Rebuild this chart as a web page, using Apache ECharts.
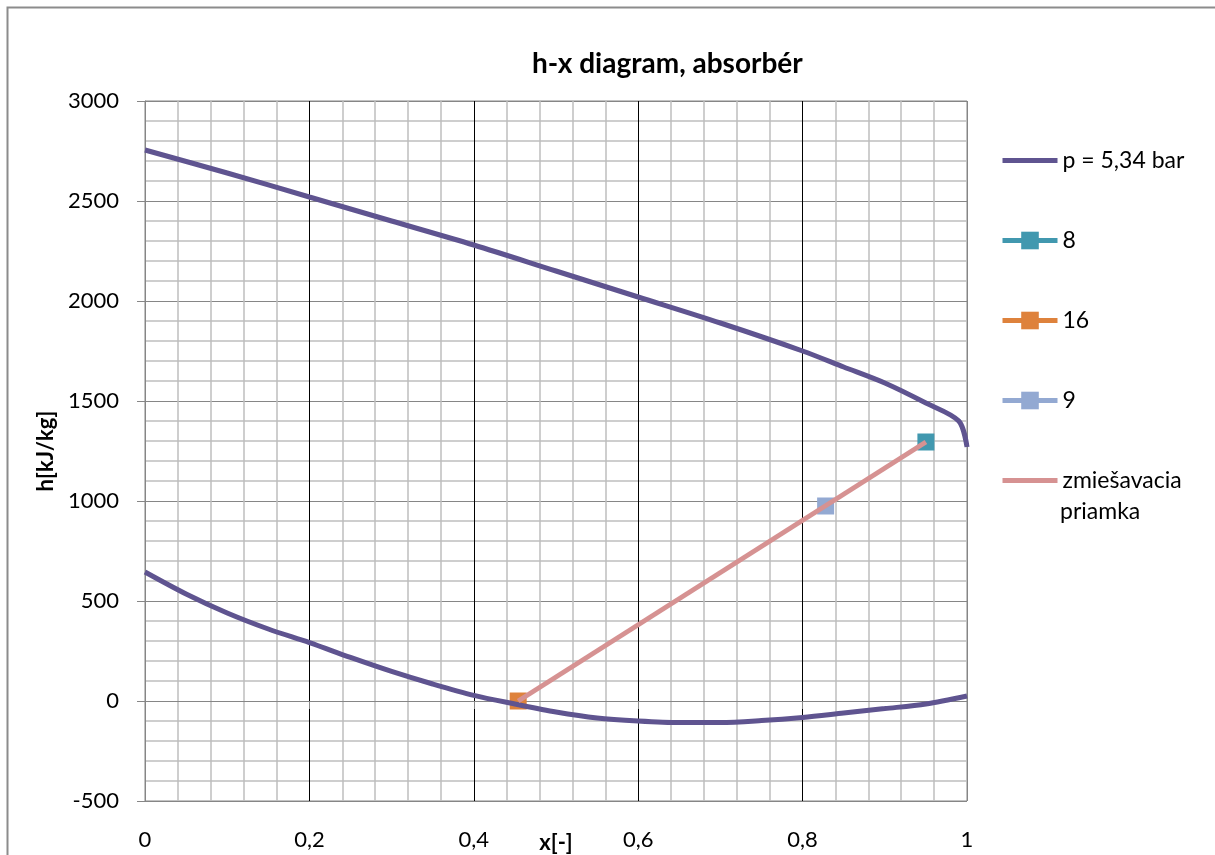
<!DOCTYPE html>
<html>
<head>
<meta charset="utf-8">
<script src="https://cdn.jsdelivr.net/npm/echarts@6/dist/echarts.min.js"></script>
<style>
html,body{margin:0;padding:0;background:#fff;}
#c{width:1215px;height:855px;}
</style>
</head>
<body>
<div id="c"></div>
<script>
// Saturation curve p = 5,34 bar: lower (liquid) branch
var lowerX = [0, 0.05, 0.1, 0.15, 0.2, 0.25, 0.3, 0.35, 0.4, 0.45, 0.5, 0.55, 0.6, 0.65, 0.7, 0.75, 0.8, 0.85, 0.9, 0.95, 1.0];
var lowerH = [645, 535, 440, 360, 292, 218, 148, 85, 28, -15, -55, -85, -100, -108, -108, -98, -82, -60, -38, -15, 25];
// upper (vapour) branch
var upperX = [0, 0.1, 0.2, 0.3, 0.4, 0.5, 0.6, 0.7, 0.8, 0.85, 0.9, 0.95, 0.99, 1.0];
var upperH = [2755, 2640, 2520, 2400, 2280, 2150, 2020, 1890, 1750, 1670, 1590, 1490, 1400, 1270];
// state points
var point8 = [0.95, 1295];
var point16 = [0.454, 0];
var point9 = [0.828, 975];
// mixing line
var mixX = [0.454, 0.95];
var mixH = [0, 1295];
var xTicks = ['0', '0,2', '0,4', '0,6', '0,8', '1'];

var FONT = 'Lato, "Open Sans", sans-serif';

var pData = [];
for (var i = 0; i < lowerX.length; i++) pData.push([lowerX[i], lowerH[i]]);
pData.push('-');
for (var j = 0; j < upperX.length; j++) pData.push([upperX[j], upperH[j]]);
var mixData = mixX.map(function (x, k) { return [x, mixH[k]]; });

var chart = echarts.init(document.getElementById('c'));
chart.setOption({
  animation: false,
  title: {
    text: 'h-x diagram, absorbér',
    left: 527, top: 45,
    textStyle: {fontFamily: FONT, fontSize: 28, fontWeight: 'bold', color: '#000'}
  },
  graphic: [
    {type: 'rect', shape: {x: 7.5, y: 7.5, width: 1300, height: 1000},
     style: {fill: 'none', stroke: '#8c8c8c', lineWidth: 2}, silent: true},
    {type: 'text', left: 1060, top: 500,
     style: {text: 'priamka', font: '23px ' + FONT, fill: '#000'}}
  ],
  legend: {
    orient: 'vertical', left: 1000, top: 149, padding: 0,
    itemWidth: 55, itemHeight: 22, itemGap: 57,
    lineStyle: {width: 5},
    textStyle: {fontFamily: FONT, fontSize: 23, color: '#000'},
    formatter: function (n) { return n === 'zmiešavacia priamka' ? 'zmiešavacia' : n; },
    data: [
      {name: 'p = 5,34 bar', itemStyle: {opacity: 0}},
      '8', '16', '9',
      {name: 'zmiešavacia priamka', itemStyle: {opacity: 0}}
    ]
  },
  grid: {left: 145, top: 101, width: 822, height: 700, outerBoundsMode: 'none', containLabel: false,
         show: true, borderColor: '#868686', borderWidth: 1},
  xAxis: {
    type: 'value', min: 0, max: 1, interval: 0.2,
    name: 'x[-]', nameLocation: 'middle', nameGap: 31, nameMoveOverlap: false,
    nameTextStyle: {fontFamily: FONT, fontSize: 22, fontWeight: 'bold', color: '#000'},
    axisLine: {show: true, lineStyle: {color: '#868686'}},
    axisTick: {show: true, length: 8, lineStyle: {color: '#868686'}},
    axisLabel: {margin: 28, fontFamily: FONT, fontSize: 22, color: '#000',
      formatter: function (v) { return xTicks[Math.round(v / 0.2)]; }},
    splitLine: {show: true, lineStyle: {color: ['#868686', '#000', '#000', '#000', '#000', '#868686'], width: 1}},
    minorTick: {show: false, splitNumber: 5},
    minorSplitLine: {show: true, lineStyle: {color: '#BFBFBF', width: 1.5}}
  },
  yAxis: {
    type: 'value', min: -500, max: 3000, interval: 500,
    name: 'h[kJ/kg]', nameLocation: 'middle', nameGap: 88, nameRotate: 90,
    nameTextStyle: {fontFamily: FONT, fontSize: 22, fontWeight: 'bold', color: '#000'},
    axisLine: {show: true, lineStyle: {color: '#868686'}},
    axisTick: {show: true, length: 8, lineStyle: {color: '#868686'}},
    axisLabel: {margin: 26, fontFamily: FONT, fontSize: 22, color: '#000',
      formatter: function (v) { return String(v); }},
    splitLine: {show: true, lineStyle: {color: '#868686', width: 1}},
    minorTick: {show: false, splitNumber: 5},
    minorSplitLine: {show: true, lineStyle: {color: '#BFBFBF', width: 1.5}}
  },
  series: [
    {name: 'p = 5,34 bar', type: 'line', data: pData, smooth: 0.3, showSymbol: false, symbol: 'none',
     connectNulls: false, lineStyle: {color: '#5F5490', width: 5}, itemStyle: {color: '#5F4A80'}},
    {name: 'zmiešavacia priamka', type: 'line', data: mixData, symbol: 'none', z: 3,
     lineStyle: {color: '#D69292', width: 5}, itemStyle: {color: '#D69292'}},
    {name: '8', type: 'line', data: [point8], symbol: 'rect', symbolSize: 17, z: 2,
     lineStyle: {color: '#4198AF', width: 5}, itemStyle: {color: '#4198AF'}},
    {name: '16', type: 'line', data: [point16], symbol: 'rect', symbolSize: 17, z: 2,
     lineStyle: {color: '#DE823C', width: 5}, itemStyle: {color: '#DE823C'}},
    {name: '9', type: 'line', data: [point9], symbol: 'rect', symbolSize: 17, z: 2,
     lineStyle: {color: '#93A9D2', width: 5}, itemStyle: {color: '#93A9D2'}}
  ]
});
</script>
</body>
</html>
